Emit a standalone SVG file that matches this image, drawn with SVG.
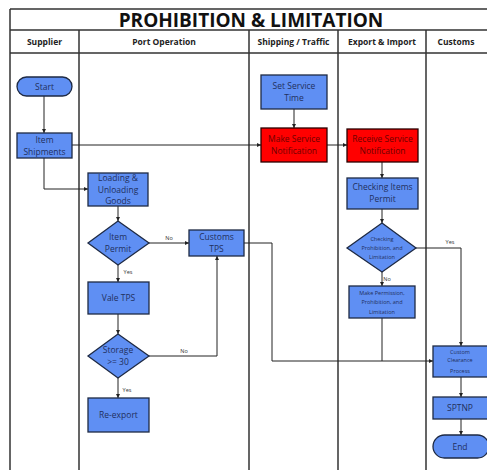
<svg xmlns="http://www.w3.org/2000/svg" width="487" height="470" viewBox="0 0 487 470">
  <style>
    .frame { fill: none; stroke: #333; stroke-width: 1.5; }
    .title { font-family: "Open Sans", "Liberation Sans", sans-serif; font-weight: bold; font-size: 19px; fill: #111; text-anchor: middle; }
    .hdr { font-family: "Open Sans", "Liberation Sans", sans-serif; font-weight: bold; font-size: 8.5px; fill: #222; text-anchor: middle; }
    .box { fill: #5f8ff3; stroke: #1e2a44; stroke-width: 1.3; }
    .red { fill: #ff0000; stroke: #2a0000; stroke-width: 1.3; }
    .t { font-family: "Open Sans", "Liberation Sans", sans-serif; font-size: 8.5px; fill: #1f2f5e; text-anchor: middle; }
    .tr { font-family: "Open Sans", "Liberation Sans", sans-serif; font-size: 8.5px; fill: #6e0000; text-anchor: middle; }
    .ts { font-family: "Open Sans", "Liberation Sans", sans-serif; font-size: 5.5px; fill: #1f2f5e; text-anchor: middle; }
    .lbl { font-family: "Open Sans", "Liberation Sans", sans-serif; font-size: 5.5px; fill: #333; text-anchor: middle; }
    .c { fill: none; stroke: #222; stroke-width: 1; marker-end: url(#ah); }
    .cn { fill: none; stroke: #222; stroke-width: 1; }
  </style>
  <defs>
    <marker id="ah" viewBox="0 0 6 6" refX="6" refY="3" markerWidth="4" markerHeight="4" orient="auto">
      <path d="M0,0 L6,3 L0,6 z" fill="#222"/>
    </marker>
  </defs>

  <rect width="487" height="470" fill="#fff"/>

  <!-- swimlane frame -->
  <g id="frame">
    <path class="frame" d="M10,9 H487 M10,9 V470 M10,30 H487 M10,53 H487 M79,30 V470 M249,30 V470 M338,30 V470 M426,30 V470"/>
    <text class="title" x="251" y="26.5">PROHIBITION &amp; LIMITATION</text>
    <text class="hdr" x="44.5" y="45">Supplier</text>
    <text class="hdr" x="164" y="45">Port Operation</text>
    <text class="hdr" x="293.5" y="45">Shipping / Traffic</text>
    <text class="hdr" x="382" y="45">Export &amp; Import</text>
    <text class="hdr" x="456" y="45">Customs</text>
  </g>

  <!-- connectors -->
  <g id="connectors">
    <path class="c" d="M44,96 V133"/>
    <path class="c" d="M72,145 H261"/>
    <path class="c" d="M44,158 V189 H88"/>
    <path class="c" d="M294,109 V128"/>
    <path class="c" d="M327,145 H347"/>
    <path class="c" d="M382,162 V178"/>
    <path class="c" d="M382,209 V223"/>
    <path class="c" d="M382,272 V286"/>
    <path class="c" d="M416,248 H461 V346"/>
    <path class="cn" d="M382,318 V361"/>
    <path class="c" d="M244,243 H272 V361 H433"/>
    <path class="c" d="M118,206 V221"/>
    <path class="c" d="M149,243 H189"/>
    <path class="c" d="M118,265 V282"/>
    <path class="c" d="M118,314 V334"/>
    <path class="c" d="M149,356 H217 V256"/>
    <path class="c" d="M118,378 V398"/>
    <path class="c" d="M461,377 V397"/>
    <path class="c" d="M461,419 V435"/>
    <text class="lbl" x="169" y="240">No</text>
    <text class="lbl" x="128" y="274">Yes</text>
    <text class="lbl" x="184" y="353">No</text>
    <text class="lbl" x="127" y="392">Yes</text>
    <text class="lbl" x="387" y="281">No</text>
    <text class="lbl" x="450" y="244">Yes</text>
  </g>

  <g id="start">
    <rect class="box" x="17" y="77" width="55" height="19" rx="9.5"/>
    <text class="t" x="44.5" y="89.5">Start</text>
  </g>
  <g id="item-shipments">
    <rect class="box" x="17" y="133" width="55" height="25"/>
    <text class="t" x="44.5" y="143">Item</text>
    <text class="t" x="44.5" y="154.5">Shipments</text>
  </g>
  <g id="loading">
    <rect class="box" x="88" y="173" width="60" height="33"/>
    <text class="t" x="118" y="181">Loading &amp;</text>
    <text class="t" x="118" y="192.5">Unloading</text>
    <text class="t" x="118" y="204">Goods</text>
  </g>
  <g id="item-permit">
    <polygon class="box" points="118,221 149,243 118,265 88,243"/>
    <text class="t" x="118" y="240">Item</text>
    <text class="t" x="118" y="251.5">Permit</text>
  </g>
  <g id="customs-tps">
    <rect class="box" x="189" y="230" width="55" height="26"/>
    <text class="t" x="216.5" y="240">Customs</text>
    <text class="t" x="216.5" y="251.5">TPS</text>
  </g>
  <g id="vale-tps">
    <rect class="box" x="88" y="282" width="61" height="32"/>
    <text class="t" x="118.5" y="301">Vale TPS</text>
  </g>
  <g id="storage">
    <polygon class="box" points="118,334 149,356 118,378 88,356"/>
    <text class="t" x="118" y="353">Storage</text>
    <text class="t" x="118" y="364.5">&gt;= 30</text>
  </g>
  <g id="re-export">
    <rect class="box" x="88" y="398" width="61" height="34"/>
    <text class="t" x="118.5" y="418">Re-export</text>
  </g>
  <g id="set-service-time">
    <rect class="box" x="261" y="75" width="66" height="34"/>
    <text class="t" x="294" y="89">Set Service</text>
    <text class="t" x="294" y="101">Time</text>
  </g>
  <g id="make-service">
    <rect class="red" x="261" y="128" width="66" height="34"/>
    <text class="tr" x="294" y="142">Make Service</text>
    <text class="tr" x="294" y="154">Notification</text>
  </g>
  <g id="receive-service">
    <rect class="red" x="347" y="129" width="71" height="33"/>
    <text class="tr" x="382.5" y="142">Receive Service</text>
    <text class="tr" x="382.5" y="154">Notification</text>
  </g>
  <g id="checking-items">
    <rect class="box" x="347" y="178" width="71" height="31"/>
    <text class="t" x="382.5" y="190">Checking Items</text>
    <text class="t" x="382.5" y="201.5">Permit</text>
  </g>
  <g id="checking-prohibition">
    <polygon class="box" points="382,223 416,248 382,272 347,248"/>
    <text class="ts" x="382" y="241">Checking</text>
    <text class="ts" x="382" y="250">Prohibition, and</text>
    <text class="ts" x="382" y="259">Limitation</text>
  </g>
  <g id="make-permission">
    <rect class="box" x="349" y="286" width="66" height="32"/>
    <text class="ts" x="382" y="294.5">Make Permission,</text>
    <text class="ts" x="382" y="304">Prohibition, and</text>
    <text class="ts" x="382" y="313.5">Limitation</text>
  </g>
  <g id="custom-clearance">
    <rect class="box" x="433" y="346" width="56" height="31"/>
    <text class="ts" x="460" y="353.5">Custom</text>
    <text class="ts" x="460" y="362">Clearance</text>
    <text class="ts" x="460" y="372.5">Process</text>
  </g>
  <g id="sptnp">
    <rect class="box" x="433" y="397" width="56" height="22"/>
    <text class="t" x="460" y="411">SPTNP</text>
  </g>
  <g id="end">
    <rect class="box" x="433" y="435" width="56" height="23" rx="11.5"/>
    <text class="t" x="460" y="449.5">End</text>
  </g>
</svg>
